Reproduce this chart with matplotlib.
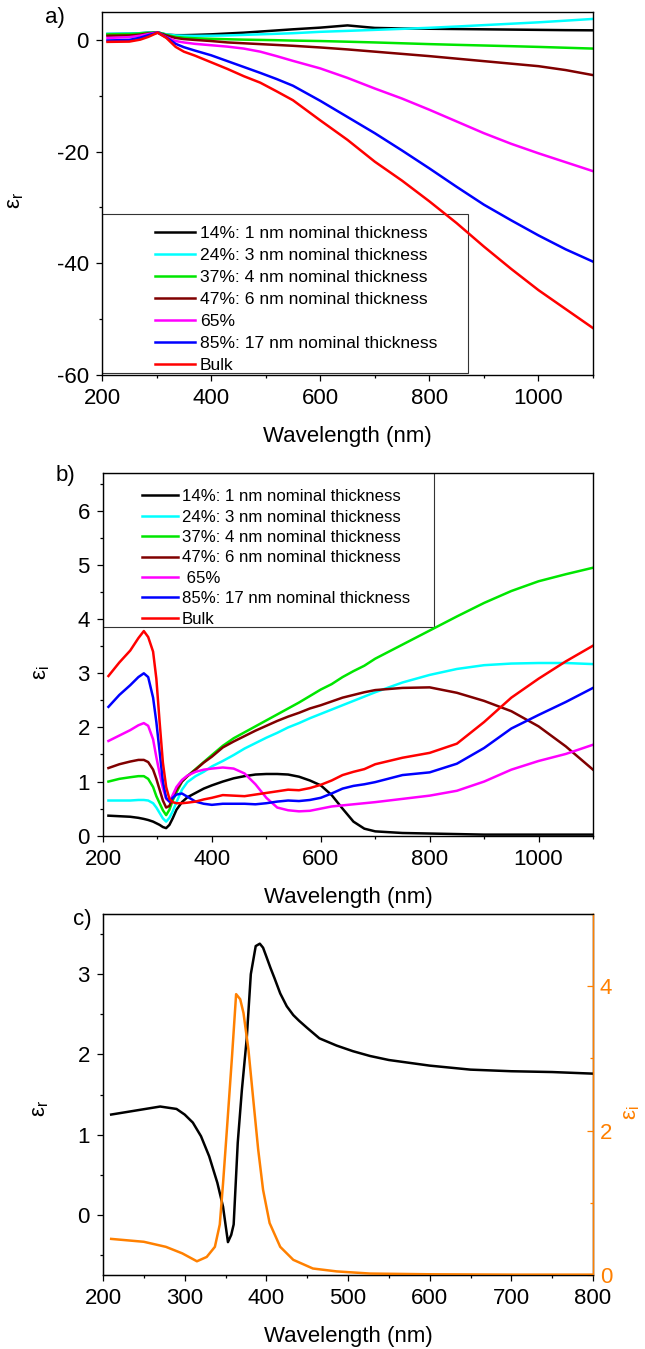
import numpy as np
import matplotlib
matplotlib.use("Agg")
import matplotlib.pyplot as plt
from matplotlib.patches import Rectangle
from matplotlib.ticker import MultipleLocator

plt.rcParams['font.family'] = ['Liberation Sans', 'DejaVu Sans']
plt.rcParams['axes.unicode_minus'] = False

# ---------------- data ----------------
labels_a = ["14%: 1 nm nominal thickness", "24%: 3 nm nominal thickness",
            "37%: 4 nm nominal thickness", "47%: 6 nm nominal thickness",
            "65%", "85%: 17 nm nominal thickness", "Bulk"]
labels_b = ["14%: 1 nm nominal thickness", "24%: 3 nm nominal thickness",
            "37%: 4 nm nominal thickness", "47%: 6 nm nominal thickness",
            " 65%", "85%: 17 nm nominal thickness", "Bulk"]
colors = ["#000000", "#00ffff", "#00e600", "#800000", "#ff00ff", "#0000ff", "#ff0000"]

# a) real part
wl_a = [210, 250, 270, 285, 302, 318, 335, 350, 370, 400, 430, 460, 490, 520, 550,
        600, 650, 700, 750, 800, 850, 900, 950, 1000, 1050, 1100]
er_14 = [1.05, 1.1, 1.2, 1.3, 1.35, 0.95, 0.85, 0.85, 0.9, 1.0, 1.15, 1.3, 1.5, 1.7, 1.9,
         2.2, 2.6, 2.15, 2.05, 2.0, 1.95, 1.9, 1.85, 1.8, 1.75, 1.72]
er_24 = [1.1, 1.15, 1.2, 1.3, 1.35, 1.0, 0.8, 0.75, 0.72, 0.75, 0.8, 0.9, 1.0, 1.1, 1.2,
         1.45, 1.62, 1.8, 1.98, 2.17, 2.4, 2.65, 2.9, 3.15, 3.45, 3.76]
er_37 = [1.0, 1.05, 1.15, 1.25, 1.35, 0.9, 0.55, 0.4, 0.3, 0.2, 0.12, 0.05, 0.0, -0.05, -0.12,
         -0.2, -0.32, -0.45, -0.6, -0.75, -0.88, -1.0, -1.12, -1.25, -1.4, -1.55]
er_47 = [0.75, 0.8, 0.95, 1.15, 1.33, 0.8, 0.35, 0.15, 0.0, -0.2, -0.45, -0.6, -0.75, -0.9, -1.05,
         -1.35, -1.7, -2.1, -2.5, -2.9, -3.35, -3.8, -4.25, -4.7, -5.4, -6.3]
er_65 = [0.35, 0.5, 0.75, 1.05, 1.33, 0.5, -0.2, -0.45, -0.7, -0.95, -1.2, -1.55, -2.1, -2.9, -3.75,
         -5.1, -6.8, -8.7, -10.5, -12.5, -14.6, -16.7, -18.6, -20.3, -21.9, -23.5]
er_85 = [-0.1, 0.0, 0.4, 0.85, 1.3, 0.45, -0.7, -1.3, -1.9, -2.75, -3.8, -4.85, -5.9, -7.0, -8.2,
         -10.9, -13.8, -16.7, -19.8, -23.0, -26.3, -29.5, -32.3, -35.0, -37.5, -39.7]
er_bulk = [-0.35, -0.3, 0.05, 0.55, 1.3, 0.35, -1.25, -2.1, -2.8, -4.0, -5.2, -6.5, -7.65, -9.2, -10.8,
           -14.4, -17.9, -21.8, -25.2, -28.9, -32.8, -37.0, -41.0, -44.8, -48.2, -51.6]

# b) imaginary part
wl_b = [210, 230, 250, 265, 275, 283, 292, 298, 304, 310, 316, 322, 328, 335, 345, 355, 370, 385,
        400, 420, 440, 460, 480, 500, 520, 540, 560, 580, 600, 620, 640, 660, 680, 700,
        750, 800, 850, 900, 950, 1000, 1050, 1100]
ei_14 = [0.37, 0.36, 0.35, 0.33, 0.31, 0.29, 0.26, 0.23, 0.2, 0.16, 0.14, 0.2, 0.32, 0.48, 0.62, 0.71, 0.79, 0.87,
         0.93, 1.0, 1.06, 1.1, 1.13, 1.14, 1.14, 1.13, 1.09, 1.02, 0.93, 0.75, 0.5, 0.26, 0.13, 0.08,
         0.05, 0.04, 0.03, 0.02, 0.02, 0.02, 0.02, 0.02]
ei_24 = [0.65, 0.65, 0.65, 0.66, 0.66, 0.65, 0.6, 0.52, 0.42, 0.32, 0.26, 0.33, 0.45, 0.62, 0.85, 0.99, 1.1, 1.18,
         1.28, 1.38, 1.49, 1.61, 1.71, 1.81, 1.9, 2.0, 2.08, 2.17, 2.25, 2.33, 2.41, 2.49, 2.57, 2.65,
         2.83, 2.97, 3.08, 3.15, 3.18, 3.19, 3.19, 3.17]
ei_37 = [1.0, 1.05, 1.08, 1.1, 1.1, 1.05, 0.9, 0.73, 0.6, 0.47, 0.38, 0.48, 0.65, 0.8, 1.0, 1.1, 1.23, 1.36,
         1.49, 1.66, 1.8, 1.91, 2.02, 2.13, 2.24, 2.35, 2.46, 2.58, 2.7, 2.8, 2.93, 3.04, 3.14, 3.27,
         3.53, 3.79, 4.05, 4.3, 4.52, 4.7, 4.83, 4.95]
ei_47 = [1.25, 1.32, 1.37, 1.4, 1.4, 1.36, 1.22, 1.05, 0.85, 0.65, 0.52, 0.55, 0.7, 0.85, 1.0, 1.1, 1.22, 1.35,
         1.46, 1.63, 1.74, 1.84, 1.94, 2.03, 2.12, 2.2, 2.27, 2.35, 2.41, 2.48, 2.55, 2.6, 2.65, 2.69,
         2.73, 2.74, 2.64, 2.49, 2.3, 2.02, 1.65, 1.22]
ei_65 = [1.75, 1.85, 1.95, 2.04, 2.08, 2.03, 1.78, 1.45, 1.15, 0.88, 0.68, 0.63, 0.75, 0.9, 1.03, 1.11, 1.18, 1.22,
         1.24, 1.26, 1.24, 1.15, 0.95, 0.7, 0.52, 0.47, 0.45, 0.46, 0.5, 0.54, 0.56, 0.58, 0.6, 0.62,
         0.68, 0.74, 0.83, 1.0, 1.22, 1.38, 1.51, 1.68]
ei_85 = [2.38, 2.6, 2.78, 2.93, 3.0, 2.93, 2.55, 2.1, 1.55, 1.0, 0.7, 0.63, 0.7, 0.76, 0.78, 0.72, 0.63, 0.59,
         0.57, 0.59, 0.59, 0.59, 0.58, 0.6, 0.63, 0.65, 0.64, 0.66, 0.7, 0.78, 0.87, 0.92, 0.95, 0.99,
         1.12, 1.17, 1.33, 1.62, 1.98, 2.23, 2.47, 2.73]
ei_bulk = [2.95, 3.2, 3.42, 3.65, 3.78, 3.67, 3.4, 2.9, 2.1, 1.35, 0.9, 0.68, 0.62, 0.6, 0.6, 0.61, 0.63, 0.67,
           0.7, 0.75, 0.74, 0.73, 0.76, 0.79, 0.82, 0.85, 0.84, 0.88, 0.94, 1.02, 1.12, 1.18, 1.23, 1.32,
           1.44, 1.53, 1.7, 2.1, 2.55, 2.9, 3.22, 3.51]

# c) single film, real and imaginary parts
wl_c_r = [210, 240, 270, 290, 300, 310, 320, 330, 340, 347, 353, 357, 360, 365, 370, 376, 381, 387,
          392, 396, 400, 405, 410, 417, 425, 433, 440, 450, 465, 486, 506, 527, 550, 600, 650, 700, 750, 800]
er_c = [1.25, 1.3, 1.35, 1.32, 1.25, 1.15, 0.98, 0.73, 0.4, 0.1, -0.34, -0.25, -0.12, 0.9, 1.55, 2.2, 3.0, 3.35,
        3.38, 3.33, 3.22, 3.08, 2.95, 2.76, 2.6, 2.49, 2.42, 2.33, 2.2, 2.11, 2.04, 1.98, 1.93, 1.86,
        1.81, 1.79, 1.78, 1.76]
wl_c_i = [210, 250, 277, 297, 315, 327, 337, 343, 347, 352, 358, 363, 368, 372, 378, 384, 390, 396,
          404, 417, 433, 457, 486, 527, 600, 700, 800]
ei_c = [0.5, 0.46, 0.39, 0.3, 0.19, 0.25, 0.39, 0.7, 1.27, 2.06, 3.03, 3.89, 3.82, 3.63, 3.13, 2.43, 1.74, 1.18,
        0.72, 0.39, 0.21, 0.09, 0.05, 0.02, 0.01, 0.005, 0.005]

orange = "#ff8000"
W, H = 645, 1349
tick_fs = 16
lab_fs = 16
lw = 1.8


def style(ax):
    ax.tick_params(which='both', direction='out', top=False, right=False,
                   labelsize=tick_fs, width=0.9, pad=5)
    ax.tick_params(which='major', length=4.5)
    ax.tick_params(which='minor', length=2.5)
    for s in ax.spines.values():
        s.set_linewidth(1.0)


fig = plt.figure(figsize=(W / 100, H / 100), dpi=100)

# ---------------- panel a ----------------
axA = fig.add_axes([102 / W, 1 - 375 / H, 491 / W, 363 / H])
for y, c, l in zip([er_14, er_24, er_37, er_47, er_65, er_85, er_bulk], colors, labels_a):
    axA.plot(wl_a, y, color=c, lw=lw, label=l)
axA.set_xlim(200, 1100)
axA.set_ylim(-60, 5)
axA.xaxis.set_major_locator(MultipleLocator(200))
axA.xaxis.set_minor_locator(MultipleLocator(100))
axA.yaxis.set_major_locator(MultipleLocator(20))
axA.yaxis.set_minor_locator(MultipleLocator(10))
style(axA)
axA.set_xlabel("Wavelength (nm)", fontsize=lab_fs, labelpad=12)
axA.set_ylabel("ε$_\\mathregular{r}$", fontsize=lab_fs)
axA.yaxis.set_label_coords(-0.155, 0.48)
axA.add_patch(Rectangle((0, 0.0055), 0.745, 0.438, transform=axA.transAxes,
                        fill=False, lw=0.8, ec='#333333'))
axA.legend(loc='upper left', bbox_to_anchor=(0.108, 0.41), frameon=False, borderpad=0,
           borderaxespad=0, fontsize=12.6, handlelength=2.27, handletextpad=0.28,
           labelspacing=0.38)

# ---------------- panel b ----------------
axB = fig.add_axes([103 / W, 1 - 835.7 / H, 490 / W, 362.7 / H])
for y, c, l in zip([ei_14, ei_24, ei_37, ei_47, ei_65, ei_85, ei_bulk], colors, labels_b):
    axB.plot(wl_b, y, color=c, lw=lw, label=l)
axB.set_xlim(200, 1100)
axB.set_ylim(0, 6.7)
axB.xaxis.set_major_locator(MultipleLocator(200))
axB.xaxis.set_minor_locator(MultipleLocator(100))
axB.yaxis.set_major_locator(MultipleLocator(1))
axB.yaxis.set_minor_locator(MultipleLocator(0.5))
style(axB)
axB.set_xlabel("Wavelength (nm)", fontsize=lab_fs, labelpad=12)
axB.set_ylabel("ε$_\\mathregular{i}$", fontsize=lab_fs)
axB.yaxis.set_label_coords(-0.104, 0.45)
axB.add_patch(Rectangle((0, 0.5754), 0.6755, 0.4246, transform=axB.transAxes,
                        fill=False, lw=0.8, ec='#333333'))
axB.legend(loc='upper left', bbox_to_anchor=(0.079, 0.955), frameon=False, borderpad=0,
           borderaxespad=0, fontsize=12.1, handlelength=2.16, handletextpad=0.24,
           labelspacing=0.32)

# ---------------- panel c ----------------
axC = fig.add_axes([103 / W, 1 - 1275 / H, 490 / W, 361 / H])
axC.plot(wl_c_r, er_c, color='black', lw=lw)
axC.set_xlim(200, 800)
axC.set_ylim(-0.75, 3.75)
axC.xaxis.set_major_locator(MultipleLocator(100))
axC.xaxis.set_minor_locator(MultipleLocator(50))
axC.yaxis.set_major_locator(MultipleLocator(1))
axC.yaxis.set_minor_locator(MultipleLocator(0.5))
style(axC)
axC.set_xlabel("Wavelength (nm)", fontsize=lab_fs, labelpad=12)
axC.set_ylabel("ε$_\\mathregular{r}$", fontsize=lab_fs)
axC.yaxis.set_label_coords(-0.106, 0.46)

axC2 = axC.twinx()
axC2.plot(wl_c_i, ei_c, color=orange, lw=lw)
axC2.set_ylim(0, 5)
axC2.yaxis.set_major_locator(MultipleLocator(2))
axC2.yaxis.set_minor_locator(MultipleLocator(1))
axC2.tick_params(which='both', direction='in', colors=orange, labelcolor=orange,
                 labelsize=tick_fs, width=0.9, pad=5)
axC2.tick_params(which='major', length=4.5)
axC2.tick_params(which='minor', length=2.5)
axC2.spines['right'].set_color(orange)
axC2.spines['right'].set_linewidth(1.0)
axC2.set_ylabel("ε$_\\mathregular{i}$", fontsize=lab_fs, color=orange)
axC2.yaxis.set_label_coords(1.058, 0.45)

# panel letters
fig.text(45 / W, 1 - 18 / H, "a)", fontsize=16, va='center', ha='left')
fig.text(56 / W, 1 - 475 / H, "b)", fontsize=16, va='center', ha='left')
fig.text(73 / W, 1 - 920 / H, "c)", fontsize=16, va='center', ha='left')

fig.savefig("out.png", dpi=100)
